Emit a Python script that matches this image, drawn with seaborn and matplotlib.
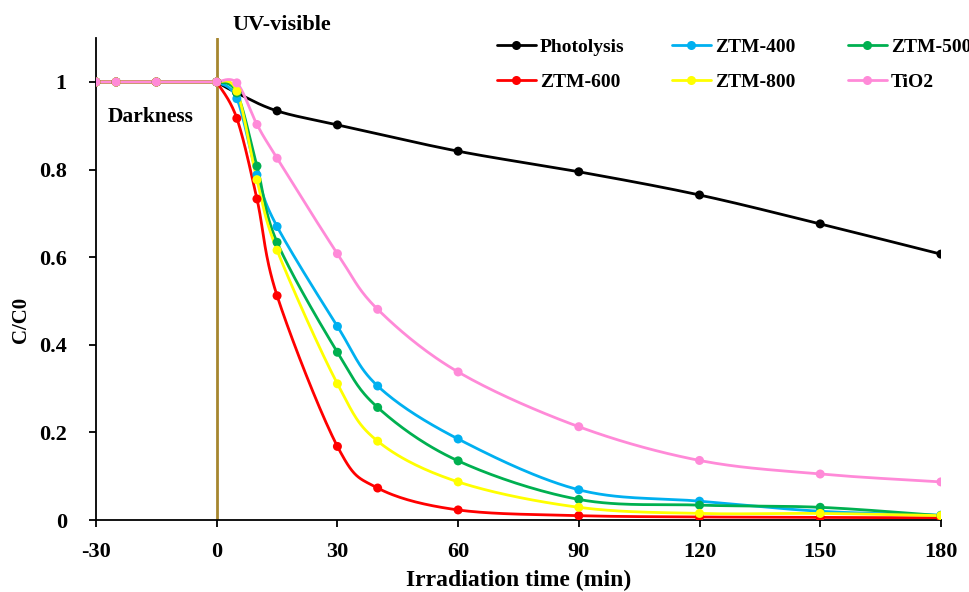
import numpy as np
import pandas as pd
import matplotlib
matplotlib.use("Agg")
import matplotlib.pyplot as plt
from matplotlib.lines import Line2D
import seaborn as sns

# Irradiation time (min); negative times are the dark adsorption period
time = [-30, -25, -15, 0, 5, 10, 15, 30, 40, 60, 90, 120, 150, 180]

photolysis = [1, 1, 1, 1, 0.975, np.nan, 0.934, 0.902, np.nan, 0.842, 0.795, 0.742, 0.676, 0.607]
ztm400 = [1, 1, 1, 1, 0.962, 0.788, 0.670, 0.442, 0.306, 0.185, 0.069, 0.043, 0.020, 0.011]
ztm500 = [1, 1, 1, 1, 0.975, 0.808, 0.634, 0.383, 0.257, 0.135, 0.047, 0.034, 0.029, 0.010]
ztm600 = [1, 1, 1, 1, 0.917, 0.733, 0.512, 0.168, 0.073, 0.023, 0.010, 0.007, 0.006, 0.005]
ztm800 = [1, 1, 1, 1, 0.979, 0.777, 0.616, 0.311, 0.180, 0.087, 0.029, 0.015, 0.015, 0.010]
tio2 = [1, 1, 1, 1, 0.998, 0.903, 0.826, 0.608, 0.481, 0.338, 0.213, 0.136, 0.105, 0.087]

series_names = ["Photolysis", "ZTM-400", "ZTM-500", "ZTM-600", "ZTM-800", "TiO2"]
series_values = [photolysis, ztm400, ztm500, ztm600, ztm800, tio2]
colors = ["#000000", "#00B0F0", "#00B050", "#FF0000", "#FFFF00", "#FF8AD8"]

x_ticks = [-30, 0, 30, 60, 90, 120, 150, 180]
y_ticks = [0, 0.2, 0.4, 0.6, 0.8, 1.0]
y_tick_labels = ["0", "0.2", "0.4", "0.6", "0.8", "1"]

sns.set_theme(style="white")
plt.rcParams["font.family"] = ["Liberation Serif", "DejaVu Serif"]
plt.rcParams["font.weight"] = "bold"
plt.rcParams["text.color"] = "black"
plt.rcParams["axes.labelcolor"] = "black"

fig = plt.figure(figsize=(9.7, 5.92), dpi=100)
ax = fig.add_axes([0.099, 0.1216, 0.871, 0.8139])
ax.set_xlim(-30, 180)
ax.set_ylim(0, 1.1)


def smooth_curve(ax, xs, ys, n=30):
    """Cubic Bezier smoothing through every point, computed in screen space."""
    pts = ax.transData.transform(np.column_stack([xs, ys]))
    m = len(pts)
    out = []
    for i in range(m - 1):
        p0 = pts[max(i - 1, 0)]
        p1 = pts[i]
        p2 = pts[i + 1]
        p3 = pts[min(i + 2, m - 1)]
        c1 = p1 + (p2 - p0) / 6.0
        c2 = p2 - (p3 - p1) / 6.0
        t = np.linspace(0, 1, n, endpoint=(i == m - 2))[:, None]
        seg = ((1 - t) ** 3) * p1 + 3 * ((1 - t) ** 2) * t * c1 + 3 * (1 - t) * t ** 2 * c2 + t ** 3 * p2
        out.append(seg)
    out = np.vstack(out)
    data = ax.transData.inverted().transform(out)
    return data[:, 0], data[:, 1]


handles = []
for name, vals, col in zip(series_names, series_values, colors):
    df = pd.DataFrame({"time": time, "C/C0": vals}).dropna()
    dark = df[df["time"] <= 0]
    light = df[df["time"] >= 0]
    sx, sy = smooth_curve(ax, light["time"].to_numpy(float), light["C/C0"].to_numpy(float))
    curve = pd.concat([dark, pd.DataFrame({"time": sx, "C/C0": sy})], ignore_index=True)
    sns.lineplot(data=curve, x="time", y="C/C0", sort=False, estimator=None,
                 color=col, lw=2.0, ax=ax, legend=False)
    sns.scatterplot(data=df, x="time", y="C/C0", color=col, s=42,
                    edgecolor="none", ax=ax, legend=False, zorder=3)
    handles.append(Line2D([], [], color=col, lw=2.0, marker="o", markersize=6.5,
                          markeredgewidth=0))

# boundary between dark adsorption and illumination
ax.axvline(0, color="#A6862F", lw=2.0, zorder=1)

ax.set_xticks(x_ticks)
ax.set_xticklabels([str(v) for v in x_ticks])
ax.set_yticks(y_ticks)
ax.set_yticklabels(y_tick_labels)
ax.tick_params(axis="both", labelsize=16, direction="out", length=5, width=1.3,
               colors="black", bottom=True, left=True)
ax.tick_params(axis="x", pad=11)
ax.tick_params(axis="y", pad=16)
for lab in ax.get_xticklabels() + ax.get_yticklabels():
    lab.set_fontweight("bold")

for side in ["top", "right"]:
    ax.spines[side].set_visible(False)
for side in ["left", "bottom"]:
    ax.spines[side].set_color("black")
    ax.spines[side].set_linewidth(1.3)

ax.set_xlabel("Irradiation time (min)", fontsize=17, fontweight="bold")
ax.xaxis.set_label_coords(0.5, -0.103)
ax.set_ylabel("C/C0", fontsize=15, fontweight="bold")
ax.yaxis.set_label_coords(-0.077, 0.415)

ax.text(-27, 0.92, "Darkness", fontsize=15.5, fontweight="bold", ha="left", va="center")
ax.text(3.8, 1.13, "UV-visible", fontsize=16, fontweight="bold", ha="left", va="center",
        clip_on=False)

# legend laid out as three equally spaced columns of two entries
columns = [[0, 3], [1, 4], [2, 5]]
col_left = [497, 672, 848]
for idx, left in zip(columns, col_left):
    fig.legend([handles[i] for i in idx], [series_names[i] for i in idx],
               ncol=1, loc="upper left", bbox_to_anchor=(left / 970, 1 - 38 / 592),
               frameon=False, borderpad=0, borderaxespad=0,
               prop={"size": 14, "weight": "bold"}, handlelength=2.0, handletextpad=0.2,
               labelspacing=0.9)

fig.savefig("out.png", dpi=100)
